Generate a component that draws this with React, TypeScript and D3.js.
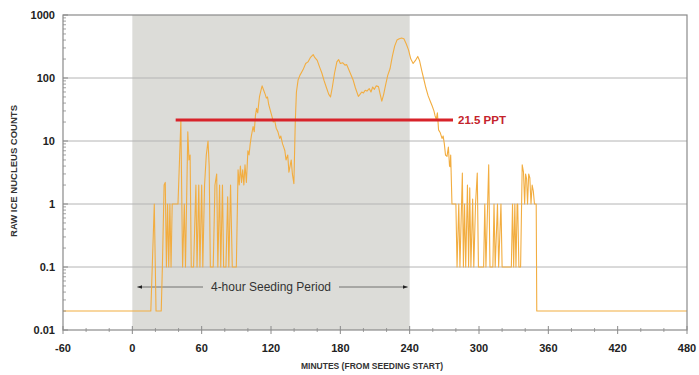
import React from "react";
import * as d3 from "d3";

const TIMES: number[] = [
  -60, 16, 19, 20.5, 25, 26, 27.5, 28.5, 29.5, 30.5, 31.5, 32.5, 33.5, 34.5, 35.5, 37, 38, 39.5,
  42, 43.5, 45, 46, 48, 49, 50, 51, 53, 55, 56, 57.5, 58.5, 60, 61, 62.5, 64, 65.5, 66.5, 67.5,
  70, 71.5, 73, 74, 75.5, 76.5, 78, 79, 81, 82.5, 83.5, 85, 86.5, 88, 90,
  91.5, 92.5, 93.5, 94.5, 95.5, 96.5, 97.5, 98.7, 100, 101, 102, 103, 104.5, 105.5, 106.5, 107.5,
  108.5, 110, 111, 112.3, 113.5, 115, 116, 117, 118, 119.5, 121, 122, 123, 124.5, 126, 127.5,
  128.5, 130, 131, 132, 133, 134.5, 135.5, 136.5, 137.5, 138.5, 139.8, 141, 142, 143.5, 145,
  147.8, 150, 152, 154, 156.5, 158, 160, 162, 164, 166, 168, 170, 171.5, 173, 175, 177, 178.5,
  180, 182, 184, 185.5, 187, 189, 191, 193, 195.6, 197, 198.5, 200, 201.5, 203, 205, 206.5, 208,
  209.5, 211, 213, 214.5, 215.9, 217.5, 219, 221, 223, 225, 227, 229, 231, 233, 235, 237, 239,
  241, 243, 245, 247, 248.5, 250.5, 252, 254, 256, 258, 259.5, 261, 262, 263, 264, 265, 266.5,
  268, 269, 270, 271, 272.3, 273.5, 274.5, 275, 275.5, 276.6,
  278, 280, 281, 282.5, 283.5, 285.6, 286.5, 287.5, 288.5, 290, 291, 292, 293, 294.5, 295.5, 297,
  298.5, 299.5, 302, 304, 305, 306, 308.4, 309.5, 312, 313, 314, 316, 317, 319, 320, 328, 329,
  330, 331, 332, 333, 333.5, 334.5, 336, 337.4, 338.5, 339.5, 340.3, 341.2, 342, 343, 344, 345,
  346, 347, 348, 349.5, 350, 480,
];

const COUNTS: number[] = [
  0.02, 0.02, 1, 0.02, 0.02, 0.1, 2, 2.2, 0.1, 1, 0.1, 1, 0.1, 1, 1, 1, 1, 1,
  21, 0.1, 1, 0.1, 14, 5, 6, 0.1, 0.1, 2, 0.1, 2, 0.1, 2, 0.1, 2, 6, 10, 4, 0.1,
  0.1, 2, 3, 0.1, 2, 0.1, 2, 0.1, 0.1, 1.3, 0.1, 2, 0.1, 0.1, 0.1,
  3.5, 2, 4, 2.2, 3.5, 2, 4.2, 2.2, 7, 6, 9, 12, 17, 14, 25, 33,
  28, 50, 60, 75, 65, 55, 48, 50, 38, 30, 24, 20, 22, 16, 14, 11,
  12, 9, 8, 7, 5, 6, 3.2, 4, 5, 3, 2.1, 20, 60, 94, 110,
  136, 170, 180, 210, 235, 210, 190, 150, 120, 90, 70, 55, 50, 70, 120, 180, 196,
  170, 175, 160, 163, 140, 115, 94, 70, 51, 55, 60, 58, 64, 62, 68, 60, 72,
  66, 75, 73, 55, 43, 55, 75, 110, 140, 220, 320, 400, 420, 430, 420, 350, 280,
  200, 170, 190, 220, 190, 130, 100, 70, 52, 42, 36, 30, 25, 22, 28, 15, 13.5,
  11, 12, 9, 6, 5.7, 8, 4, 3.9, 6, 1,
  1, 1, 0.1, 1, 0.1, 3.1, 0.1, 1, 0.1, 2, 0.1, 1.8, 0.1, 1.2, 0.1, 1,
  3.1, 0.1, 0.1, 0.1, 1, 0.1, 4.2, 0.1, 0.1, 1, 0.1, 1, 0.1, 1, 0.1, 0.1, 1,
  0.1, 1, 0.1, 1, 1, 0.1, 0.1, 4.2, 3.2, 1, 3, 2.5, 1, 3, 2.6, 1,
  2, 1.6, 1, 1, 0.02, 0.02,
];

const X_TICKS: number[] = [-60, 0, 60, 120, 180, 240, 300, 360, 420, 480];
const Y_TICKS: number[] = [0.01, 0.1, 1, 10, 100, 1000];
const Y_TICK_LABELS: string[] = ["0.01", "0.1", "1", "10", "100", "1000"];
const SEEDING: [number, number] = [0, 240];
const THRESHOLD = 21.5;
const THRESHOLD_RANGE: [number, number] = [37.5, 277.5];
const THRESHOLD_LABEL = "21.5 PPT";
const PERIOD_LABEL = "4-hour Seeding Period";
const X_TITLE = "MINUTES (FROM SEEDING START)";
const Y_TITLE = "RAW ICE NUCLEUS COUNTS";

const W = 699;
const H = 375;
const L = 63;
const R = 687;
const T = 15;
const B = 330;

export default function App() {
  const x = d3.scaleLinear().domain([-60, 480]).range([L, R]);
  const y = d3.scaleLog().domain([0.01, 1000]).range([B, T]);
  const data = TIMES.map((t, i) => [t, COUNTS[i]] as [number, number]);
  const line = d3
    .line<[number, number]>()
    .x((d) => x(d[0]))
    .y((d) => y(d[1]));

  const minorY: number[] = [];
  for (let e = -2; e < 3; e++) {
    for (let m = 2; m <= 9; m++) minorY.push(m * Math.pow(10, e));
  }
  const minorX: number[] = d3.range(-60, 481, 20).filter((v) => v % 60 !== 0);
  const font = "Liberation Sans, Arial, sans-serif";
  const arrowY = 287;
  const labelCx = (x(SEEDING[0]) + x(SEEDING[1])) / 2;

  return (
    <svg
      width={W}
      height={H}
      style={{ position: "absolute", left: 0, top: 0, display: "block", background: "#fff" }}
      fontFamily={font}
    >
      <defs>
        <marker id="arr" viewBox="0 0 10 10" refX="10" refY="5" markerWidth="6" markerHeight="6" orient="auto-start-reverse">
          <path d="M0,1 L10,5 L0,9 Z" fill="#222" />
        </marker>
      </defs>
      <rect x={x(SEEDING[0])} y={T} width={x(SEEDING[1]) - x(SEEDING[0])} height={B - T} fill="#dcdcd8" />
      {Y_TICKS.slice(1, -1).map((v) => (
        <line key={v} x1={L} x2={R} y1={y(v)} y2={y(v)} stroke="#b4b4b4" strokeWidth={1} />
      ))}
      <line x1={x(SEEDING[0]) + 5} x2={labelCx - 68} y1={arrowY} y2={arrowY} stroke="#555" strokeWidth={0.8} markerStart="url(#arr)" />
      <line x1={labelCx + 68} x2={x(SEEDING[1]) - 2} y1={arrowY} y2={arrowY} stroke="#555" strokeWidth={0.8} markerEnd="url(#arr)" />
      <text x={labelCx} y={arrowY + 4} textAnchor="middle" fontSize={12} fill="#333">
        {PERIOD_LABEL}
      </text>
      <path d={line(data) || ""} fill="none" stroke="#f2ad40" strokeWidth={1.1} strokeLinejoin="round" />
      <line
        x1={x(THRESHOLD_RANGE[0])}
        x2={x(THRESHOLD_RANGE[1])}
        y1={y(THRESHOLD)}
        y2={y(THRESHOLD)}
        stroke="#d8232a"
        strokeWidth={3}
      />
      <text x={x(THRESHOLD_RANGE[1]) + 5} y={y(THRESHOLD) + 4} fontSize={11.5} fontWeight="bold" fill="#c4232b">
        {THRESHOLD_LABEL}
      </text>
      <rect x={L} y={T} width={R - L} height={B - T} fill="none" stroke="#8a8a8a" strokeWidth={1.2} />
      {minorY.map((v) => (
        <line key={"my" + v} x1={L} x2={L + 3} y1={y(v)} y2={y(v)} stroke="#8a8a8a" strokeWidth={0.8} />
      ))}
      {Y_TICKS.map((v, i) => (
        <g key={"yt" + v}>
          <line x1={L} x2={L + 5} y1={y(v)} y2={y(v)} stroke="#8a8a8a" strokeWidth={1} />
          <text x={L - 8} y={y(v) + 4} textAnchor="end" fontSize={11} fontWeight="bold" fill="#222">
            {Y_TICK_LABELS[i]}
          </text>
        </g>
      ))}
      {minorX.map((v) => (
        <line key={"mx" + v} x1={x(v)} x2={x(v)} y1={B - 2} y2={B + 2} stroke="#8a8a8a" strokeWidth={0.8} />
      ))}
      {X_TICKS.map((v) => (
        <g key={"xt" + v}>
          <line x1={x(v)} x2={x(v)} y1={B - 4} y2={B + 4} stroke="#8a8a8a" strokeWidth={1} />
          <text x={x(v)} y={B + 22} textAnchor="middle" fontSize={11} fontWeight="bold" fill="#222">
            {v}
          </text>
        </g>
      ))}
      <text x={372} y={369} textAnchor="middle" fontSize={8.5} fontWeight="bold" fill="#333">
        {X_TITLE}
      </text>
      <text
        transform={`translate(17,${171}) rotate(-90)`}
        textAnchor="middle"
        fontSize={9.5}
        fontWeight="bold"
        fill="#333"
      >
        {Y_TITLE}
      </text>
    </svg>
  );
}
